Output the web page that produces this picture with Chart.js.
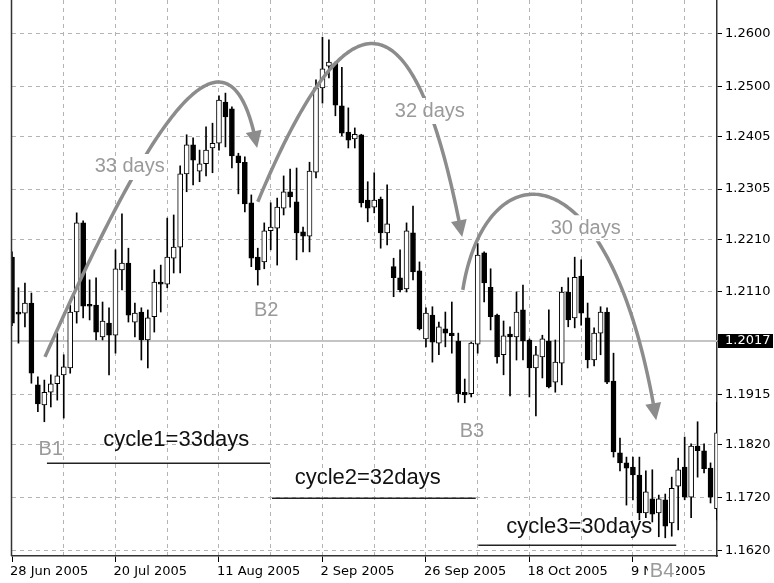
<!DOCTYPE html>
<html><head><meta charset="utf-8">
<script src="https://cdn.jsdelivr.net/npm/chart.js@4.4.1/dist/chart.umd.min.js"></script>
<style>html,body{margin:0;padding:0;background:#fff}#wrap{width:774px;height:583px;position:relative}</style>
</head><body><div id="wrap"><canvas id="c" width="774" height="583"></canvas></div>
<script>
// ---------- DATA ----------
const dates = ['28 Jun 2005','29 Jun 2005','30 Jun 2005','1 Jul 2005','4 Jul 2005','5 Jul 2005','6 Jul 2005','7 Jul 2005','8 Jul 2005','11 Jul 2005',
'12 Jul 2005','13 Jul 2005','14 Jul 2005','15 Jul 2005','18 Jul 2005','19 Jul 2005','20 Jul 2005','21 Jul 2005','22 Jul 2005','25 Jul 2005',
'26 Jul 2005','27 Jul 2005','28 Jul 2005','29 Jul 2005','1 Aug 2005','2 Aug 2005','3 Aug 2005','4 Aug 2005','5 Aug 2005','8 Aug 2005',
'9 Aug 2005','10 Aug 2005','11 Aug 2005','12 Aug 2005','15 Aug 2005','16 Aug 2005','17 Aug 2005','18 Aug 2005','19 Aug 2005','22 Aug 2005',
'23 Aug 2005','24 Aug 2005','25 Aug 2005','26 Aug 2005','29 Aug 2005','30 Aug 2005','31 Aug 2005','1 Sep 2005','2 Sep 2005','5 Sep 2005',
'6 Sep 2005','7 Sep 2005','8 Sep 2005','9 Sep 2005','12 Sep 2005','13 Sep 2005','14 Sep 2005','15 Sep 2005','16 Sep 2005','19 Sep 2005',
'20 Sep 2005','21 Sep 2005','22 Sep 2005','23 Sep 2005','26 Sep 2005','27 Sep 2005','28 Sep 2005','29 Sep 2005','30 Sep 2005','3 Oct 2005',
'4 Oct 2005','5 Oct 2005','6 Oct 2005','7 Oct 2005','10 Oct 2005','11 Oct 2005','12 Oct 2005','13 Oct 2005','14 Oct 2005','17 Oct 2005',
'18 Oct 2005','19 Oct 2005','20 Oct 2005','21 Oct 2005','24 Oct 2005','25 Oct 2005','26 Oct 2005','27 Oct 2005','28 Oct 2005','31 Oct 2005',
'1 Nov 2005','2 Nov 2005','3 Nov 2005','4 Nov 2005','7 Nov 2005','8 Nov 2005','9 Nov 2005','10 Nov 2005','11 Nov 2005','14 Nov 2005',
'15 Nov 2005','16 Nov 2005','17 Nov 2005','18 Nov 2005','21 Nov 2005','22 Nov 2005','23 Nov 2005','24 Nov 2005','25 Nov 2005','28 Nov 2005'];

const opens = [1.2176,1.2070,1.2070,1.2089,1.1934,1.1896,1.1920,1.1936,1.1953,1.1966,
1.2072,1.2241,1.2085,1.2085,1.2025,1.2051,1.2028,1.2152,1.2165,1.2053,
1.2072,1.2019,1.2063,1.2127,1.2125,1.2174,1.2195,1.2334,1.2389,1.2339,
1.2353,1.2383,1.2392,1.2470,1.2457,1.2368,1.2356,1.2279,1.2176,1.2167,
1.2226,1.2231,1.2269,1.2300,1.2281,1.2224,1.2216,1.2337,1.2497,1.2538,
1.2544,1.2463,1.2413,1.2400,1.2408,1.2284,1.2271,1.2286,1.2222,1.2158,
1.2137,1.2116,1.2222,1.2150,1.2021,1.2066,1.2013,1.2040,1.2032,1.2017,
1.1920,1.1917,1.2011,1.2184,1.2119,1.2066,1.1991,1.2030,1.2025,1.2076,
1.2019,1.1966,1.1987,1.2017,1.1939,1.1975,1.2110,1.2061,1.2140,1.2061,
1.1981,1.2032,1.2072,1.1941,1.1805,1.1786,1.1778,1.1763,1.1691,1.1718,
1.1691,1.1716,1.1672,1.1742,1.1778,1.1721,1.1818,1.1809,1.1776,1.1699];

const highs = [1.2186,1.2118,1.2127,1.2108,1.1949,1.1943,1.1953,1.2032,1.1991,1.2085,
1.2260,1.2245,1.2133,1.2137,1.2091,1.2080,1.2190,1.2258,1.2193,1.2089,
1.2080,1.2076,1.2152,1.2161,1.2250,1.2256,1.2349,1.2408,1.2402,1.2379,
1.2423,1.2430,1.2482,1.2487,1.2461,1.2373,1.2366,1.2294,1.2193,1.2241,
1.2279,1.2288,1.2330,1.2343,1.2345,1.2233,1.2356,1.2512,1.2593,1.2588,
1.2546,1.2536,1.2459,1.2421,1.2409,1.2319,1.2336,1.2290,1.2313,1.2174,
1.2190,1.2241,1.2273,1.2167,1.2080,1.2082,1.2053,1.2072,1.2091,1.2032,
1.1945,1.2015,1.2202,1.2186,1.2154,1.2068,1.2055,1.2044,1.2110,1.2123,
1.2021,1.2007,1.2028,1.2076,1.2019,1.2119,1.2137,1.2176,1.2171,1.2089,
1.2042,1.2082,1.2080,1.1994,1.1833,1.1797,1.1797,1.1797,1.1771,1.1773,
1.1725,1.1727,1.1759,1.1795,1.1835,1.1822,1.1864,1.1822,1.1786,1.1901];

const lows = [1.2046,1.2013,1.2044,1.1937,1.1883,1.1864,1.1892,1.1905,1.1871,1.1956,
1.2051,1.2061,1.2057,1.2019,1.2019,1.1953,1.1994,1.2114,1.2053,1.2025,
1.1981,1.1966,1.2034,1.2072,1.2118,1.2146,1.2146,1.2300,1.2313,1.2319,
1.2330,1.2336,1.2379,1.2385,1.2345,1.2296,1.2262,1.2158,1.2123,1.2154,
1.2190,1.2161,1.2256,1.2271,1.2171,1.2186,1.2186,1.2326,1.2468,1.2516,
1.2444,1.2406,1.2383,1.2383,1.2271,1.2243,1.2260,1.2193,1.2199,1.2101,
1.2110,1.2110,1.2133,1.2038,1.2006,1.1977,1.1991,1.2006,1.1994,1.1901,
1.1900,1.1911,1.1994,1.2091,1.2038,1.1975,1.1953,1.1913,1.1981,1.1981,
1.1911,1.1875,1.1947,1.1928,1.1920,1.1934,1.2044,1.2042,1.2047,1.1966,
1.1970,1.1991,1.1936,1.1797,1.1771,1.1706,1.1716,1.1678,1.1682,1.1674,
1.1646,1.1644,1.1647,1.1659,1.1716,1.1682,1.1759,1.1767,1.1710,1.1678];

const closes = [1.2051,1.2068,1.2089,1.1956,1.1898,1.1920,1.1936,1.1951,1.1968,1.2072,
1.2241,1.2083,1.2083,1.2034,1.2055,1.2028,1.2154,1.2165,1.2066,1.2070,
1.2019,1.2061,1.2129,1.2125,1.2176,1.2195,1.2334,1.2389,1.2360,1.2353,
1.2379,1.2392,1.2474,1.2442,1.2368,1.2355,1.2277,1.2174,1.2152,1.2226,
1.2233,1.2271,1.2300,1.2290,1.2222,1.2216,1.2339,1.2497,1.2533,1.2546,
1.2464,1.2411,1.2398,1.2409,1.2279,1.2269,1.2284,1.2222,1.2239,1.2137,
1.2114,1.2226,1.2148,1.2040,1.2070,1.2015,1.2044,1.2032,1.2027,1.1917,
1.1915,1.2013,1.2180,1.2127,1.2063,1.1987,1.2027,1.2025,1.2072,1.2017,
1.1966,1.1991,1.2021,1.1930,1.1977,1.2110,1.2057,1.2138,1.2070,1.1981,
1.2032,1.2072,1.1939,1.1807,1.1786,1.1776,1.1763,1.1691,1.1731,1.1689,
1.1718,1.1666,1.1738,1.1773,1.1721,1.1818,1.1809,1.1775,1.1721,1.1843];

const xTickLabels = ['28 Jun 2005','20 Jul 2005','11 Aug 2005','2 Sep 2005','26 Sep 2005','18 Oct 2005','9 Nov 2005'];
const yTickLabels = ['1.2600','1.2500','1.2405','1.2305','1.2210','1.2110','1.2017','1.1915','1.1820','1.1720','1.1620'];
const currentPrice = 1.2017;

// ---------- ANNOTATIONS (data coordinates: [bar index, price]) ----------
const arrowPaths = [
  [[5.1, 1.1987], [16.7, 1.2303], [32.9, 1.2720], [37.9, 1.2383]],
  [[38.0, 1.2281], [50.4, 1.2645], [61.5, 1.2739], [69.6, 1.2214]],
  [[69.7, 1.2114], [73.1, 1.2379], [92.5, 1.2398], [99.6, 1.1867]]
];
const arrowTexts = ['33 days', '32 days', '30 days'];
const arrowTextAt = [[18.2, 1.2347], [64.6, 1.2453], [88.7, 1.2231]];
const bottomNames = ['B1', 'B2', 'B3', 'B4'];
const bottomAt = [[6.0, 1.1812], [39.3, 1.2074], [71.1, 1.1845], [100.5, 1.1581]];
const cycleTexts = ['cycle1=33days', 'cycle2=32days', 'cycle3=30days'];
const cycleTextAt = [[25.4, 1.1829], [55.0, 1.1757], [87.7, 1.1665]];
const cycleSpans = [[5.4, 39.9, 1.1786], [40.2, 71.7, 1.1720], [72.1, 102.7, 1.1630]];

const ARROW_GRAY = '#8c8c8c', TEXT_GRAY = '#9a9a9a';
const LABEL_FONT = '"Liberation Sans", Arial, sans-serif';

function bez(p, t) {
  const u = 1 - t;
  return [u*u*u*p[0][0] + 3*u*u*t*p[1][0] + 3*u*t*t*p[2][0] + t*t*t*p[3][0],
          u*u*u*p[0][1] + 3*u*u*t*p[1][1] + 3*u*t*t*p[2][1] + t*t*t*p[3][1]];
}

const annot = {
  id: 'annot',
  beforeDatasetsDraw(chart) {
    const {ctx, chartArea: a, scales: {y}} = chart;
    const py = Math.round(y.getPixelForValue(currentPrice));
    ctx.save();
    ctx.strokeStyle = '#c4c4c4'; ctx.lineWidth = 2;
    ctx.beginPath(); ctx.moveTo(a.left, py); ctx.lineTo(a.right, py); ctx.stroke();
    ctx.restore();
  },
  afterDatasetsDraw(chart) {
    const {ctx, scales: {x, y}} = chart;
    const px = d => [x.getPixelForValue(d[0]), y.getPixelForValue(d[1])];
    ctx.save();
    // curved arrows with their day counts
    arrowPaths.forEach((path, k) => {
      const P = path.map(px);
      const tip = P[3];
      const headLen = 17, headW = 8;
      const prev = bez(P, 0.97);
      let dx = tip[0] - prev[0], dy = tip[1] - prev[1];
      const L = Math.hypot(dx, dy); dx /= L; dy /= L;
      const [tx, ty] = px(arrowTextAt[k]);
      ctx.font = '20px ' + LABEL_FONT;
      const tw = ctx.measureText(arrowTexts[k]).width;
      ctx.save();
      ctx.beginPath();
      ctx.rect(0, 0, chart.width, chart.height);
      ctx.rect(tx - tw / 2 - 5, ty - 13, tw + 10, 26);
      ctx.clip('evenodd');
      ctx.strokeStyle = ARROW_GRAY; ctx.lineWidth = 3.5; ctx.lineJoin = 'round'; ctx.lineCap = 'butt';
      ctx.beginPath();
      let started = false;
      for (let s = 0; s <= 100; s++) {
        const p = bez(P, s / 100);
        if (Math.hypot(p[0] - tip[0], p[1] - tip[1]) < headLen * 0.7) continue;
        if (!started) { ctx.moveTo(p[0], p[1]); started = true; } else ctx.lineTo(p[0], p[1]);
      }
      ctx.stroke();
      ctx.restore();
      const bx = tip[0] - dx * headLen, by = tip[1] - dy * headLen;
      ctx.fillStyle = ARROW_GRAY;
      ctx.beginPath();
      ctx.moveTo(tip[0], tip[1]);
      ctx.lineTo(bx - dy * headW, by + dx * headW);
      ctx.lineTo(bx + dy * headW, by - dx * headW);
      ctx.closePath(); ctx.fill();
      ctx.fillStyle = TEXT_GRAY; ctx.textAlign = 'center'; ctx.textBaseline = 'middle';
      ctx.fillText(arrowTexts[k], tx, ty);
    });
    // cycle texts and spans
    ctx.font = '22px ' + LABEL_FONT;
    ctx.fillStyle = '#111'; ctx.textAlign = 'center'; ctx.textBaseline = 'middle';
    cycleTexts.forEach((t, k) => { const [cx, cy] = px(cycleTextAt[k]); ctx.fillText(t, cx, cy); });
    ctx.strokeStyle = '#222'; ctx.lineWidth = 1.5;
    cycleSpans.forEach(([i0, i1, v]) => {
      const yy = Math.round(y.getPixelForValue(v)) + 0.25;
      ctx.beginPath(); ctx.moveTo(x.getPixelForValue(i0), yy); ctx.lineTo(x.getPixelForValue(i1), yy); ctx.stroke();
    });
    ctx.restore();
  },
  afterDraw(chart) {
    const {ctx, chartArea: a, scales: {x, y}} = chart;
    ctx.save();
    // left frame line
    ctx.strokeStyle = '#333'; ctx.lineWidth = 1.5;
    ctx.beginPath(); ctx.moveTo(a.left - 0.5, a.top); ctx.lineTo(a.left - 0.5, a.bottom); ctx.stroke();
    // current price box
    const py = y.getPixelForValue(currentPrice);
    ctx.fillStyle = '#000';
    ctx.fillRect(a.right + 1, Math.round(py) - 7, 55, 14);
    ctx.fillStyle = '#fff'; ctx.font = '13px "DejaVu Sans"'; ctx.textAlign = 'left'; ctx.textBaseline = 'middle';
    ctx.fillText(currentPrice.toFixed(4), a.right + 8, py);
    // bottom labels
    ctx.font = '20px ' + LABEL_FONT; ctx.textAlign = 'center'; ctx.textBaseline = 'middle';
    bottomNames.forEach((n, k) => {
      const cx = x.getPixelForValue(bottomAt[k][0]), cy = y.getPixelForValue(bottomAt[k][1]);
      if (cy > a.bottom) {
        const w = ctx.measureText(n).width;
        ctx.fillStyle = '#fff'; ctx.fillRect(cx - w / 2 - 2, cy - 10, w + 4, 22);
      }
      ctx.fillStyle = TEXT_GRAY; ctx.fillText(n, cx, cy);
    });
    ctx.restore();
  }
};

new Chart(document.getElementById('c'), {
  type: 'bar',
  data: {
    labels: dates,
    datasets: [
      {
        label: 'body',
        data: opens.map((o, i) => [Math.min(o, closes[i]), Math.max(o, closes[i])]),
        backgroundColor: opens.map((o, i) => closes[i] >= o ? '#ffffff' : '#000000'),
        borderColor: '#000', borderWidth: 1, borderSkipped: false,
        barThickness: 5, minBarLength: 2, grouped: false, order: 0
      },
      {
        label: 'wick',
        data: lows.map((l, i) => [l, highs[i]]),
        backgroundColor: '#000', borderWidth: 0,
        barThickness: 1, grouped: false, order: 1
      }
    ]
  },
  options: {
    responsive: false, animation: false, devicePixelRatio: 1,
    layout: { padding: { left: 12, right: 0, top: 0, bottom: 0 } },
    plugins: { legend: { display: false }, tooltip: { enabled: false } },
    scales: {
      x: {
        type: 'category', offset: false,
        grid: {
          offset: false, lineWidth: 1, tickLength: 6, tickWidth: 1,
          color: c => (c.tick && c.tick.value === 0) ? 'rgba(0,0,0,0)' : '#b4b4b4',
          tickColor: c => (c.tick && xTickLabels.includes(dates[c.tick.value])) ? '#000' : 'rgba(0,0,0,0)'
        },
        border: { display: true, color: '#333', width: 1.5, dash: [4, 4] },
        ticks: {
          autoSkip: false, maxRotation: 0, minRotation: 0, align: 'start', labelOffset: -2, padding: 2,
          color: '#000', font: { family: 'DejaVu Sans', size: 13 },
          callback: v => xTickLabels.includes(dates[v]) ? dates[v] : ''
        },
        afterBuildTicks: s => { s.ticks = s.ticks.filter(t => t.value % 8 === 0); },
        afterFit: s => { s.height = 27; s.paddingLeft = 0; s.paddingRight = 0; }
      },
      y: {
        position: 'right', min: 1.16095, max: 1.26635,
        grid: { color: '#b4b4b4', lineWidth: 1, tickLength: 5, tickColor: '#000' },
        border: { display: true, color: '#333', width: 1.5, dash: [4, 4] },
        ticks: {
          padding: 3, font: { family: 'DejaVu Sans', size: 13 },
          color: c => Math.abs(c.tick.value - currentPrice) < 1e-6 ? 'rgba(0,0,0,0)' : '#000',
          callback: v => v.toFixed(4)
        },
        afterBuildTicks: s => { s.ticks = yTickLabels.map(t => ({ value: parseFloat(t) })); },
        afterFit: s => { s.width = 57; s.paddingTop = 0; s.paddingBottom = 0; }
      }
    }
  },
  plugins: [annot]
});
</script>
</body></html>
